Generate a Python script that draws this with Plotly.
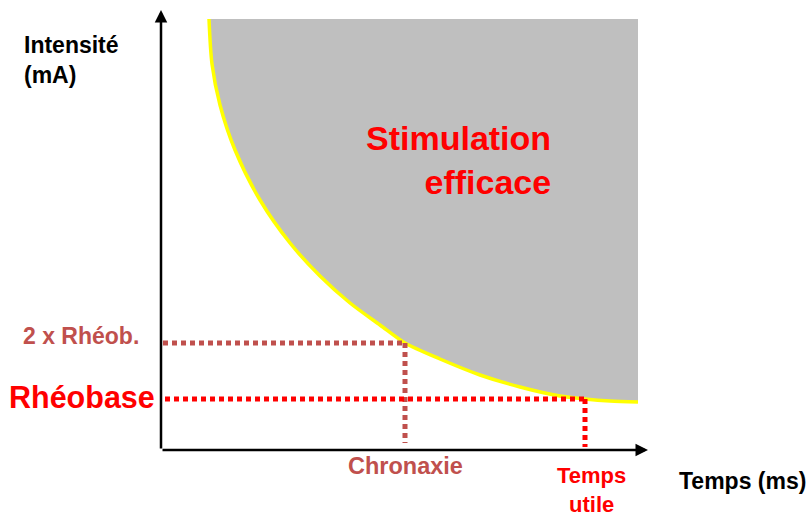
import plotly.graph_objects as go

# Curve (strength-duration): time (arbitrary ms units), intensity (arbitrary mA units)
temps = [4.8, 5.1, 5.9, 7.4, 9.9, 12.9, 15.9, 18.9, 21.9, 24.4, 27.9, 31.9, 35.9, 39.9, 42.4, 44.9, 47.7]
intensite = [43.1, 38.6, 34.5, 30.0, 25.0, 20.7, 17.4, 14.7, 12.5, 10.7, 9.1, 7.5, 6.3, 5.4, 5.1, 4.9, 4.8]

rheobase = 5.1
double_rheobase = 10.7
chronaxie = 24.4
temps_utile = 42.4
axe_x_max = 48.7
axe_y_max = 44.0
zone_haut = 43.1

FONT = "Liberation Sans, Arial, sans-serif"
GRAY = "#BFBFBF"
YELLOW = "#FFFF00"
RED = "#FF0000"
BROWN = "#C0504D"

fig = go.Figure()

# top edge of the gray region
fig.add_trace(go.Scatter(
    x=[temps[0], temps[-1]], y=[zone_haut, zone_haut], mode="lines",
    line=dict(width=0, color=GRAY), hoverinfo="skip", showlegend=False))

# yellow curve, filling up to the top edge (stimulation efficace)
fig.add_trace(go.Scatter(
    x=temps, y=intensite, mode="lines", fill="tonexty", fillcolor=GRAY,
    line=dict(color=YELLOW, width=3.5, shape="spline", smoothing=0.8), showlegend=False))

# dotted guide lines
dot = "5px,4px"
fig.add_trace(go.Scatter(x=[0.2, chronaxie], y=[double_rheobase, double_rheobase], mode="lines",
                         line=dict(color=BROWN, width=5, dash=dot), showlegend=False))
fig.add_trace(go.Scatter(x=[chronaxie, chronaxie], y=[double_rheobase, 0.7], mode="lines",
                         line=dict(color=BROWN, width=5, dash=dot), showlegend=False))
fig.add_trace(go.Scatter(x=[0.4, temps_utile], y=[rheobase, rheobase], mode="lines",
                         line=dict(color=RED, width=5, dash=dot), showlegend=False))
fig.add_trace(go.Scatter(x=[temps_utile, temps_utile], y=[rheobase, 0.3], mode="lines",
                         line=dict(color=RED, width=5, dash=dot), showlegend=False))

annotations = []
# axes with arrows
annotations.append(dict(x=0, y=axe_y_max, ax=0, ay=0, xref="x", yref="y", axref="x", ayref="y",
                        showarrow=True, arrowhead=2, arrowsize=1, arrowwidth=2.5, arrowcolor="black", text=""))
annotations.append(dict(x=axe_x_max, y=0, ax=0, ay=0, xref="x", yref="y", axref="x", ayref="y",
                        showarrow=True, arrowhead=2, arrowsize=1, arrowwidth=2.5, arrowcolor="black", text=""))

def lab(text, x, y, size, color, xanchor="center", align="center"):
    annotations.append(dict(x=x, y=y, xref="x", yref="y", text=text, showarrow=False,
                            xanchor=xanchor, yanchor="middle", align=align,
                            font=dict(family=FONT, size=size, color=color)))

lab("<b>Intensité</b><br><b>(mA)</b>", -13.9, 39.0, 23, "black", xanchor="left", align="left")
lab("<b>Stimulation</b><br><b>efficace</b>", 39.2, 29.0, 34, RED, xanchor="right", align="right")
lab("<b>2 x Rhéob.</b>", -2.0, 11.4, 23, BROWN, xanchor="right")
lab("<b>Rhéobase</b>", -0.4, 5.3, 30.5, RED, xanchor="right")
lab("<b>Chronaxie</b>", chronaxie, -1.6, 23.5, BROWN)
lab("<b>Temps</b><br><b>utile</b>", 43.0, -3.95, 22, RED)
lab("<b>Temps (ms)</b>", 64.7, -3.1, 23, "black", xanchor="right")

fig.update_layout(
    width=810, height=517,
    margin=dict(l=0, r=0, t=0, b=0),
    paper_bgcolor="white", plot_bgcolor="white",
    xaxis=dict(range=[-16.1, 64.9], visible=False, fixedrange=True),
    yaxis=dict(range=[-6.7, 45.0], visible=False, fixedrange=True),
    annotations=annotations,
    showlegend=False,
)

fig.write_html("out.html", config={"displayModeBar": False},
               post_script="document.body.style.margin='0';document.body.style.overflow='hidden';")
